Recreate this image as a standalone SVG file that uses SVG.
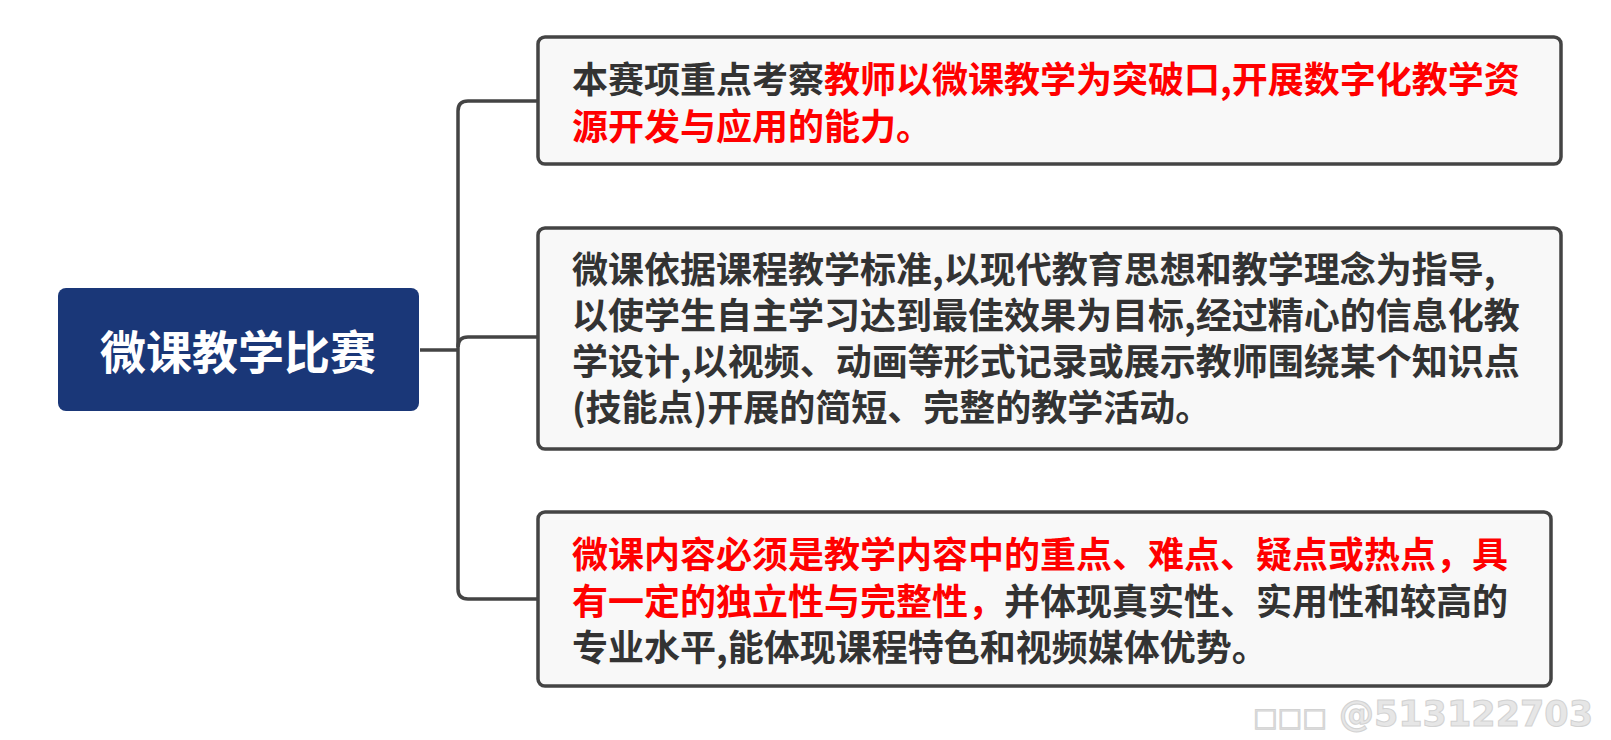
<svg xmlns="http://www.w3.org/2000/svg" width="1611" height="740" viewBox="0 0 1611 740">
<style>
.box{fill:#f8f8f8;stroke:#444;stroke-width:3.5}
.t{font-family:"Noto Sans CJK SC","Liberation Sans",sans-serif;font-size:36px;font-weight:bold;fill:#333}
.r{fill:#ff0000}
.conn{fill:none;stroke:#444;stroke-width:3.5}
</style>
<rect width="1611" height="740" fill="#ffffff"/>
<g id="connectors">
<path class="conn" d="M420,350 H458"/>
<path class="conn" d="M538,101 H468 Q458,101 458,111 V589 Q458,599 468,599 H538"/>
<path class="conn" d="M458,347 Q458,337 468,337 H538"/>
</g>
<g id="root">
<rect x="58" y="288" width="361" height="123" rx="8" fill="#1a3778"/>
<text x="238" y="369" text-anchor="middle" font-family="'Noto Sans CJK SC','Liberation Sans',sans-serif" font-size="46" font-weight="bold" fill="#ffffff">微课教学比赛</text>
</g>
<g id="node1">
<rect class="box" x="538" y="37" width="1023" height="127" rx="7"/>
<text class="t" x="572" y="93">本赛项重点考察<tspan class="r">教师以微课教学为突破口,开展数字化教学资</tspan></text>
<text class="t r" x="572" y="139.5">源开发与应用的能力。</text>
</g>
<g id="node2">
<rect class="box" x="538" y="228" width="1023" height="221" rx="7"/>
<text class="t" x="572" y="283">微课依据课程教学标准,以现代教育思想和教学理念为指导,</text>
<text class="t" x="572" y="329">以使学生自主学习达到最佳效果为目标,经过精心的信息化教</text>
<text class="t" x="572" y="375">学设计,以视频、动画等形式记录或展示教师围绕某个知识点</text>
<text class="t" x="572" y="421">(技能点)开展的简短、完整的教学活动。</text>
</g>
<g id="node3">
<rect class="box" x="538" y="512" width="1013" height="174" rx="7"/>
<text class="t r" x="572" y="568">微课内容必须是教学内容中的重点、难点、疑点或热点，具</text>
<text class="t" x="572" y="614.5"><tspan class="r">有一定的独立性与完整性，</tspan>并体现真实性、实用性和较高的</text>
<text class="t" x="572" y="661">专业水平,能体现课程特色和视频媒体优势。</text>
</g>
<g id="watermark">
<text x="1253" y="726" font-family="'DejaVu Sans',sans-serif" font-weight="bold" font-size="35" fill="#e6e6e6" stroke="#d2d2d2" stroke-width="1"><tspan font-size="26" font-weight="normal">□□□</tspan> @513122703</text>
</g>
</svg>
